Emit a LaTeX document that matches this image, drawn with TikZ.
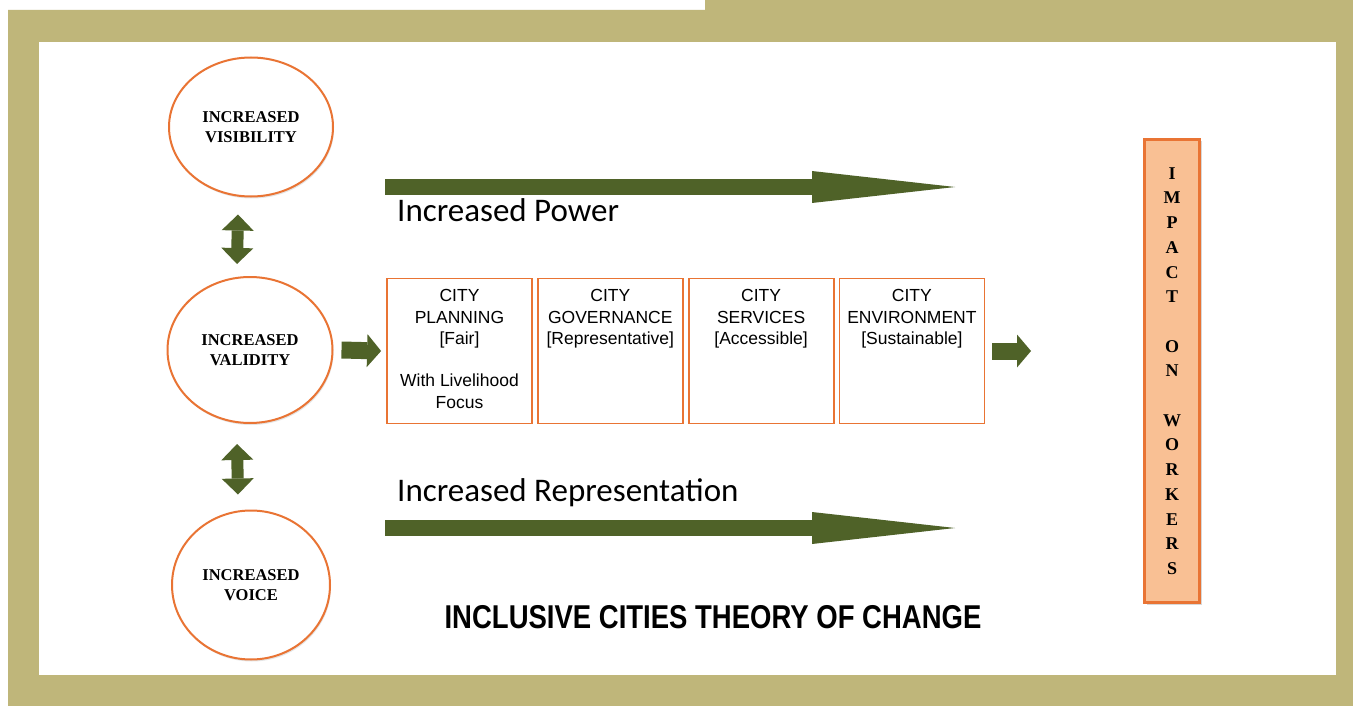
\documentclass[tikz,border=0pt]{standalone}
\usepackage{fontspec}
\setmainfont{Liberation Sans}
\newfontfamily\capsserif{Liberation Serif}
\newfontfamily\calibrifont{Carlito}
\usetikzlibrary{arrows.meta, positioning, shapes.geometric, shadows}

\definecolor{olivebg}{RGB}{191,182,122}
\definecolor{arrowgreen}{RGB}{79,98,40}
\definecolor{boxorange}{RGB}{233,116,52}
\definecolor{impactfill}{RGB}{249,192,148}

\tikzset{
  goalcircle/.style={ellipse, draw=boxorange, line width=2pt, fill=white, align=center,
    font=\capsserif\bfseries\fontsize{16.5}{20}\selectfont,
    drop shadow={opacity=0.2, shadow xshift=1pt, shadow yshift=-2pt}},
  citybox/.style={draw=boxorange, line width=1.8pt, inner xsep=3.5pt, inner ysep=8pt,
    font=\fontsize{17.5}{21.3}\selectfont},
  impactbox/.style={draw=boxorange, line width=2.5pt, fill=impactfill, align=center,
    minimum width=55pt, minimum height=463pt,
    font=\capsserif\bfseries\fontsize{18}{24.7}\selectfont,
    drop shadow={opacity=0.3, shadow xshift=2pt, shadow yshift=-2pt}},
  fatarrow/.style={draw=arrowgreen, line width=17pt,
    -{Triangle[length=14pt, width=33pt, line width=0pt]}},
  twoway/.style={draw=arrowgreen, line width=12pt,
    {Triangle[length=16pt, width=32pt, line width=0pt]}-{Triangle[length=16pt, width=32pt, line width=0pt]}},
  longarrow/.style={draw=arrowgreen, line width=16pt,
    -{Triangle[length=143pt, width=32pt, line width=0pt]}},
  arrowlabel/.style={anchor=base west, inner sep=0pt, font=\calibrifont\fontsize{33}{40}\selectfont}
}
\newcommand{\citytext}[1]{\parbox[c][129pt][t]{138pt}{\vspace*{3pt}\centering #1}}

\begin{document}
\begin{tikzpicture}[x=1pt, y=-1pt]
% frame
\fill[white] (0,0) rectangle (1353,706);
\fill[olivebg] (8,10) -- (705,10) -- (705,0) -- (1353,0) -- (1353,706) -- (8,706) -- cycle;
\fill[white] (39,42) rectangle (1336,675);

% the three circles
\node[goalcircle, minimum width=164pt, minimum height=139pt] (visib) at (251,127) {INCREASED\\VISIBILITY};
\node[goalcircle, minimum width=165pt, minimum height=146pt] (valid) at (250,350) {INCREASED\\VALIDITY};
\node[goalcircle, minimum width=158pt, minimum height=149pt] (voice) at (251,585) {INCREASED\\VOICE};

\draw[twoway] ([xshift=-13pt, yshift=-17pt]visib.south) -- ([xshift=-13pt, yshift=12pt]valid.north);
\draw[twoway] ([xshift=-13pt, yshift=-20pt]valid.south) -- ([xshift=-13pt, yshift=15pt]voice.north);

% city boxes
\node[citybox] (plan) at (459.5,351) {\citytext{CITY\\PLANNING\\{}[Fair]\\[21.3pt]With Livelihood\\Focus}};
\node[citybox, right=4pt of plan] (gov) {\citytext{CITY\\GOVERNANCE\\{}[Representative]}};
\node[citybox, right=4pt of gov] (serv) {\citytext{CITY\\SERVICES\\{}[Accessible]}};
\node[citybox, right=4pt of serv] (env) {\citytext{CITY\\ENVIRONMENT\\{}[Sustainable]}};

\draw[fatarrow] ([xshift=8pt]valid.east) -- ([xshift=-5pt]plan.west);
\coordinate (envtip) at (1031,351);
\draw[fatarrow] ([xshift=7pt]env.east) -- (envtip);

% power and representation
\coordinate (powerstart) at (385,187);
\coordinate (powerend) at (955,187);
\draw[longarrow] (powerstart) -- (powerend);
\node[arrowlabel] (powerlabel) at (397,222) {Increased Power};

\coordinate (repstart) at (385,528);
\coordinate (repend) at (955,528);
\draw[longarrow] (repstart) -- (repend);
\node[arrowlabel] (replabel) at (397,501) {Increased Representation};

% impact
\node[impactbox] (impact) at (1172,371) {I\\M\\P\\A\\C\\T\\[24.7pt]O\\N\\[24.7pt]W\\O\\R\\K\\E\\R\\S};

\node[anchor=base, inner sep=0pt, font=\bfseries\fontsize{27.5}{33}\selectfont] (title) at (713,628) {\scalebox{1}[1.2]{INCLUSIVE CITIES THEORY OF CHANGE}};
\end{tikzpicture}
\end{document}
